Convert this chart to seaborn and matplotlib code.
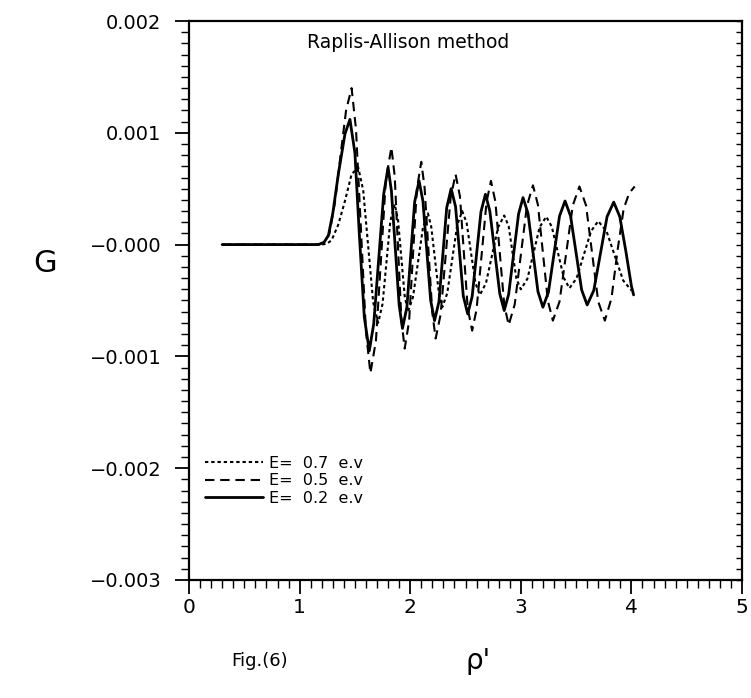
import pandas as pd
import seaborn as sns
import matplotlib.pyplot as plt
from matplotlib.ticker import MultipleLocator

# G values are given in units of 1e-3
rho_e07 = [0.30, 1.20, 1.25, 1.29, 1.35, 1.41, 1.47, 1.53, 1.575, 1.62, 1.665, 1.71, 1.75, 1.785, 1.82,
           1.86, 1.89, 1.92, 1.95, 1.98, 2.025, 2.07, 2.115, 2.16, 2.19, 2.225, 2.26, 2.29, 2.335, 2.38,
           2.425, 2.47, 2.51, 2.55, 2.59, 2.63, 2.685, 2.74, 2.795, 2.85, 2.89, 2.925, 2.96, 3.00, 3.06,
           3.115, 3.17, 3.23, 3.28, 3.335, 3.39, 3.44, 3.505, 3.57, 3.635, 3.70, 3.775, 3.85, 3.925, 4.00]
g_e07 = [0, 0, 0.01, 0.04, 0.18, 0.39, 0.63, 0.69, 0.485, -0.015, -0.515, -0.70, -0.53, -0.16, 0.21,
         0.36, 0.22, -0.12, -0.46, -0.60, -0.47, -0.16, 0.15, 0.28, 0.16, -0.14, -0.44, -0.56, -0.435, -0.13,
         0.175, 0.30, 0.195, -0.075, -0.345, -0.45, -0.345, -0.095, 0.155, 0.26, 0.165, -0.07, -0.305, -0.40, -0.305,
         -0.075, 0.155, 0.25, 0.16, -0.07, -0.30, -0.39, -0.30, -0.09, 0.12, 0.21, 0.12, -0.10, -0.32, -0.41]

rho_e05 = [0.30, 1.17, 1.22, 1.27, 1.32, 1.37, 1.42, 1.47, 1.51, 1.555, 1.60, 1.64, 1.69, 1.735, 1.78,
           1.83, 1.86, 1.89, 1.92, 1.95, 1.99, 2.025, 2.06, 2.10, 2.13, 2.165, 2.20, 2.23, 2.275, 2.32,
           2.365, 2.41, 2.45, 2.485, 2.52, 2.56, 2.60, 2.645, 2.69, 2.73, 2.77, 2.81, 2.85, 2.89, 2.945,
           3.00, 3.055, 3.11, 3.155, 3.20, 3.245, 3.29, 3.35, 3.41, 3.47, 3.53, 3.59, 3.645, 3.70, 3.76,
           3.82, 3.875, 3.93, 3.98, 4.03]
g_e05 = [0, 0, 0.02, 0.10, 0.38, 0.80, 1.20, 1.40, 1.03, 0.125, -0.78, -1.15, -0.86, -0.14, 0.58,
         0.87, 0.61, -0.03, -0.67, -0.93, -0.685, -0.095, 0.495, 0.74, 0.51, -0.05, -0.61, -0.84, -0.625, -0.105,
         0.415, 0.63, 0.43, -0.07, -0.57, -0.77, -0.58, -0.10, 0.38, 0.57, 0.385, -0.075, -0.535, -0.72, -0.535,
         -0.095, 0.345, 0.53, 0.355, -0.075, -0.505, -0.68, -0.51, -0.08, 0.35, 0.52, 0.35, -0.08, -0.51, -0.68,
         -0.48, -0.05, 0.32, 0.46, 0.52]

rho_e02 = [0.30, 1.17, 1.22, 1.26, 1.30, 1.35, 1.41, 1.455, 1.50, 1.54, 1.585, 1.63, 1.67, 1.715, 1.76,
           1.80, 1.83, 1.865, 1.90, 1.93, 1.97, 2.005, 2.04, 2.08, 2.115, 2.15, 2.185, 2.22, 2.26, 2.295,
           2.33, 2.37, 2.41, 2.445, 2.48, 2.52, 2.56, 2.60, 2.64, 2.68, 2.72, 2.765, 2.81, 2.85, 2.89,
           2.935, 2.98, 3.02, 3.065, 3.11, 3.155, 3.20, 3.25, 3.30, 3.35, 3.40, 3.45, 3.50, 3.55, 3.60,
           3.66, 3.72, 3.78, 3.84, 3.895, 3.95, 4.00, 4.02]
g_e02 = [0, 0, 0.02, 0.08, 0.28, 0.63, 0.99, 1.12, 0.82, 0.09, -0.65, -0.95, -0.71, -0.13, 0.45,
         0.69, 0.48, -0.03, -0.54, -0.75, -0.56, -0.09, 0.38, 0.57, 0.39, -0.055, -0.50, -0.68, -0.51, -0.09,
         0.33, 0.50, 0.34, -0.06, -0.46, -0.62, -0.465, -0.085, 0.295, 0.45, 0.30, -0.07, -0.44, -0.59, -0.445,
         -0.085, 0.275, 0.42, 0.28, -0.07, -0.42, -0.56, -0.425, -0.085, 0.255, 0.39, 0.255, -0.075, -0.405, -0.54,
         -0.41, -0.08, 0.25, 0.38, 0.25, -0.06, -0.37, -0.45]

series_labels = ['E=  0.7  e.v', 'E=  0.5  e.v', 'E=  0.2  e.v']
x_ticks = [0, 1, 2, 3, 4, 5]
x_tick_labels = ['0', '1', '2', '3', '4', '5']
y_ticks = [-0.003, -0.002, -0.001, 0.0, 0.001, 0.002]
y_tick_labels = ['\u22120.003', '\u22120.002', '\u22120.001', '\u22120.000', '0.001', '0.002']

sns.set_style('ticks')
plt.rcParams['font.family'] = ['DejaVu Sans']
plt.rcParams['text.color'] = 'black'
plt.rcParams['xtick.color'] = 'black'
plt.rcParams['ytick.color'] = 'black'
plt.rcParams['axes.labelcolor'] = 'black'

fig = plt.figure(figsize=(7.51, 6.98), dpi=100)
ax = fig.add_axes([0.2517, 0.1691, 0.7363, 0.8008])

curves = [(rho_e07, g_e07, (0, (1.6, 1.4)), 1.5),
          (rho_e05, g_e05, (0, (4.5, 2.8)), 1.5),
          (rho_e02, g_e02, '-', 2.0)]
for (xs, gs, ls, lw), lab in zip(curves, series_labels):
    df = pd.DataFrame({'rho': xs, 'G': [g * 1e-3 for g in gs]})
    sns.lineplot(data=df, x='rho', y='G', ax=ax, color='black', linestyle=ls, lw=lw,
                 label=lab, estimator=None, sort=False)

ax.set_xlim(0, 5)
ax.set_ylim(-0.003, 0.002)
ax.set_xticks(x_ticks)
ax.set_xticklabels(x_tick_labels)
ax.set_yticks(y_ticks)
ax.set_yticklabels(y_tick_labels)
ax.xaxis.set_minor_locator(MultipleLocator(0.1))
ax.yaxis.set_minor_locator(MultipleLocator(0.0001))
ax.set_xlabel('')
ax.set_ylabel('')
ax.tick_params(axis='both', which='major', direction='out', length=10, width=1.3, color='black')
ax.tick_params(axis='both', which='minor', direction='out', length=6, width=1.0, color='black')
ax.tick_params(axis='y', which='major', labelsize=14, pad=10, labelcolor='black')
ax.tick_params(axis='x', which='major', labelsize=14.5, pad=3, labelcolor='black')
for side in ['left', 'right', 'top', 'bottom']:
    ax.spines[side].set_visible(True)
    ax.spines[side].set_linewidth(1.6)
    ax.spines[side].set_color('black')

# short inward ticks along the right frame
ax2 = ax.twinx()
ax2.set_ylim(-0.003, 0.002)
ax2.set_yticks(y_ticks)
ax2.yaxis.set_minor_locator(MultipleLocator(0.0001))
ax2.tick_params(axis='y', which='both', direction='in', length=4, width=1.0, labelright=False)
for side in ['left', 'right', 'top', 'bottom']:
    ax2.spines[side].set_visible(False)

ax.text(0.397, 0.962, 'Raplis-Allison method', transform=ax.transAxes,
        ha='center', va='center', fontsize=13.5, color='black')

leg = ax.legend(loc='upper left', bbox_to_anchor=(0.029, 0.222), frameon=False, fontsize=11.5,
                handlelength=3.6, handletextpad=0.4, labelspacing=0.15, borderpad=0, borderaxespad=0)
for t in leg.get_texts():
    t.set_color('black')

fig.text(0.060, 0.623, 'G', fontsize=22, ha='center', va='center', color='black')
fig.text(0.346, 0.053, 'Fig.(6)', fontsize=13, ha='center', va='center', color='black')
fig.text(0.636, 0.053, "\u03c1'", fontsize=20, ha='center', va='center', color='black')

fig.savefig('out.png', dpi=100)
